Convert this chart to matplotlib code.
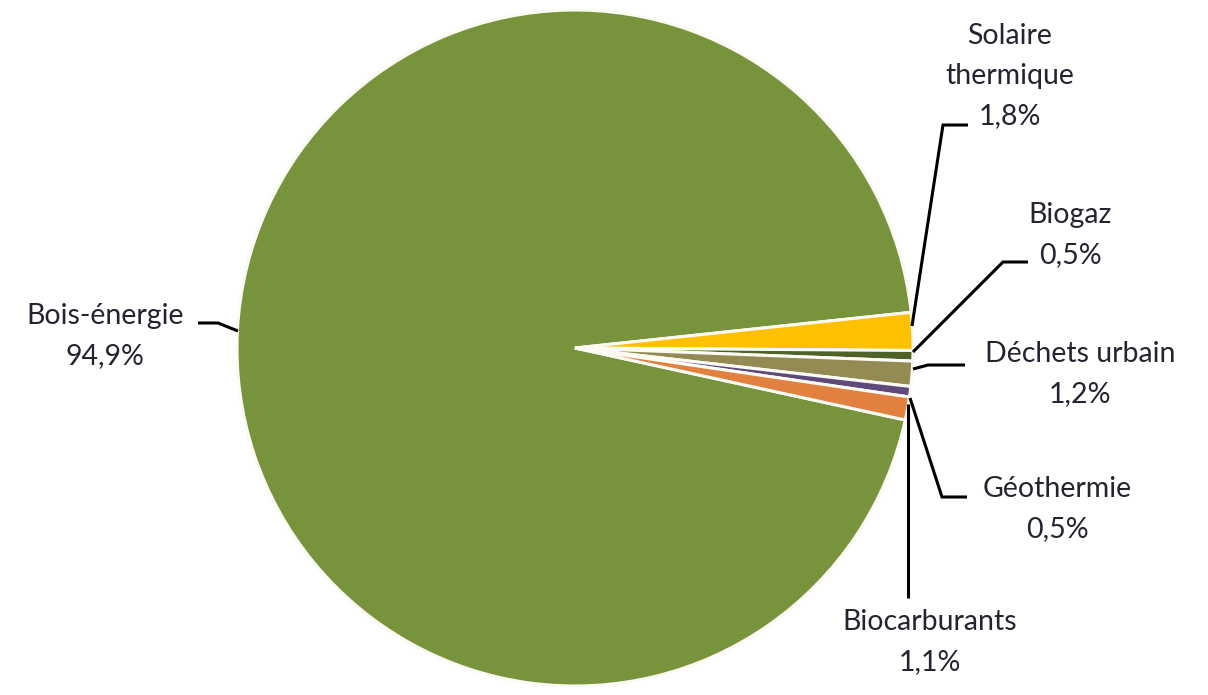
import matplotlib
matplotlib.use("Agg")
import matplotlib.pyplot as plt
import numpy as np

categories = ["Bois-énergie", "Solaire\nthermique", "Biogaz", "Déchets urbain", "Géothermie", "Biocarburants"]
values = [94.9, 1.8, 0.5, 1.2, 0.5, 1.1]
value_labels = ["94,9%", "1,8%", "0,5%", "1,2%", "0,5%", "1,1%"]
colors = ["#77933C", "#FFC000", "#4F6228", "#948A54", "#604A7B", "#E2813F"]

W, H = 1208, 695
CX, CY, R = 575, 348, 338

fig = plt.figure(figsize=(W / 100, H / 100), dpi=100)
ax = fig.add_axes([0, 0, 1, 1])

def p(px, py):
    return ((px - CX) / R, (CY - py) / R)

ax.pie(values, colors=colors, startangle=-12.3, counterclock=False,
       radius=1.0, center=(0, 0),
       wedgeprops=dict(edgecolor="#FBFBF3", linewidth=2.2))

ax.set_xlim(-CX / R, (W - CX) / R)
ax.set_ylim((CY - H) / R, CY / R)
ax.set_aspect("equal")
ax.axis("off")

# label block centres (pixels) and leader paths (pixels)
label_pos = [(105, 336), (1010, 76), (1070, 235), (1080, 374), (1057, 509), (930, 642)]
leaders = [
    [(198, 323), (218, 323), (238, 331)],
    [(968, 125), (943, 125), (912, 326)],
    [(1028, 262), (1003, 262), (913, 352)],
    [(965, 365), (928, 365), (913, 369)],
    [(967, 497), (942, 497), (910, 398)],
    [(908, 598), (908, 404)],
]

txt_color = "#242430"
for cat, val, pos in zip(categories, value_labels, label_pos):
    x, y = p(*pos)
    ax.text(x, y, f"{cat}\n{val}", ha="center", va="center", fontsize=20.5,
            family="Lato", color=txt_color, linespacing=1.68)

for path in leaders:
    pts = np.array([p(*q) for q in path])
    ax.plot(pts[:, 0], pts[:, 1], color="black", lw=2.2, solid_capstyle="butt",
            solid_joinstyle="miter")

fig.savefig("out.png", dpi=100, facecolor="white")
